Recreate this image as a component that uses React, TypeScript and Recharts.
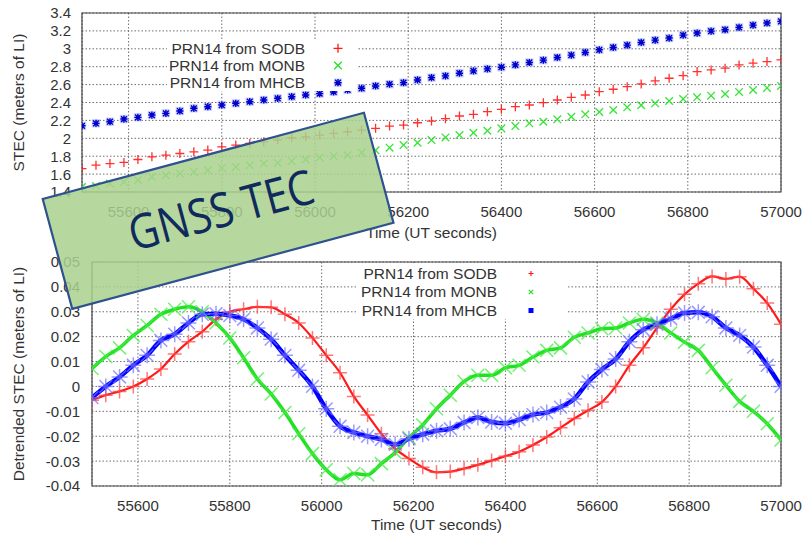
import React from 'react';
import { LineChart, Line, XAxis, YAxis, CartesianGrid, ReferenceArea } from 'recharts';

const FONT = '"Liberation Sans", Arial, Helvetica, sans-serif';

// time axis (UT seconds)
const times = [
  55500, 55530, 55560, 55590, 55620, 55650, 55680, 55710, 55740, 55770,
  55800, 55830, 55860, 55890, 55920, 55950, 55980, 56010, 56040, 56070,
  56100, 56130, 56160, 56190, 56220, 56250, 56280, 56310, 56340, 56370,
  56400, 56430, 56460, 56490, 56520, 56550, 56580, 56610, 56640, 56670,
  56700, 56730, 56760, 56790, 56820, 56850, 56880, 56910, 56940, 56970,
  57000,
];

// top panel: STEC (meters of LI)
const sodbTop = [
  1.662, 1.7, 1.718, 1.73, 1.763, 1.793, 1.811, 1.83, 1.849, 1.868,
  1.905, 1.924, 1.943, 1.961, 1.98, 2.006, 2.017, 2.036, 2.055, 2.073,
  2.092, 2.111, 2.137, 2.148, 2.174, 2.193, 2.219, 2.249, 2.268, 2.297,
  2.324, 2.353, 2.372, 2.398, 2.428, 2.458, 2.484, 2.521, 2.548, 2.577,
  2.607, 2.641, 2.671, 2.7, 2.745, 2.764, 2.783, 2.82, 2.839, 2.857,
  2.876,
];
const monbTop = [
  1.456, 1.467, 1.494, 1.512, 1.531, 1.568, 1.587, 1.606, 1.624, 1.643,
  1.669, 1.68, 1.7, 1.718, 1.725, 1.744, 1.763, 1.786, 1.8, 1.811,
  1.84, 1.865, 1.895, 1.924, 1.95, 1.98, 2.01, 2.036, 2.062, 2.084,
  2.111, 2.137, 2.167, 2.185, 2.212, 2.241, 2.268, 2.294, 2.316, 2.346,
  2.369, 2.391, 2.417, 2.439, 2.458, 2.476, 2.495, 2.518, 2.54, 2.563,
  2.585,
];
const mhcbTop = [
  2.14, 2.167, 2.185, 2.215, 2.234, 2.26, 2.279, 2.305, 2.335, 2.353,
  2.372, 2.391, 2.409, 2.428, 2.447, 2.465, 2.484, 2.499, 2.518, 2.54,
  2.559, 2.585, 2.604, 2.622, 2.652, 2.678, 2.697, 2.727, 2.753, 2.776,
  2.794, 2.82, 2.847, 2.873, 2.903, 2.929, 2.959, 2.989, 3.015, 3.041,
  3.071, 3.097, 3.12, 3.153, 3.176, 3.198, 3.213, 3.239, 3.265, 3.288,
  3.306,
];

// bottom panel: Detrended STEC (meters of LI)
const sodbDet = [
  -0.0055, -0.0035, -0.002, 0.0, 0.003, 0.007, 0.013, 0.018, 0.022, 0.027,
  0.03, 0.031, 0.032, 0.0318, 0.029, 0.0255, 0.0195, 0.0125, 0.0055, -0.004,
  -0.0115, -0.019, -0.025, -0.029, -0.0325, -0.0345, -0.0342, -0.033, -0.0315, -0.0298,
  -0.028, -0.0262, -0.0235, -0.0203, -0.0166, -0.0129, -0.0096, -0.0063, 0.0, 0.0085,
  0.0155, 0.0235, 0.031, 0.037, 0.0413, 0.0442, 0.0432, 0.0441, 0.0393, 0.0335,
  0.025,
];
const monbDet = [
  0.0072, 0.012, 0.0155, 0.0205, 0.0245, 0.029, 0.031, 0.032, 0.03, 0.0255,
  0.0195, 0.0115, 0.003, -0.003, -0.0105, -0.019, -0.027, -0.0335, -0.0375, -0.035,
  -0.0355, -0.031, -0.0265, -0.0205, -0.0155, -0.009, -0.0035, 0.002, 0.0045, 0.0045,
  0.0075, 0.0085, 0.0118, 0.0145, 0.0155, 0.0198, 0.0215, 0.0232, 0.0235, 0.0255,
  0.027, 0.0255, 0.0215, 0.0178, 0.0145, 0.0075, 0.0005, -0.006, -0.01, -0.015,
  -0.0215,
];
const mhcbDet = [
  -0.0045, 0.0, 0.0038, 0.0085, 0.0125, 0.0185, 0.021, 0.0255, 0.029, 0.0292,
  0.0285, 0.027, 0.0235, 0.019, 0.0125, 0.0065, 0.0, -0.009, -0.016, -0.0185,
  -0.02, -0.0213, -0.0233, -0.021, -0.0192, -0.0178, -0.017, -0.0145, -0.0125, -0.0143,
  -0.0148, -0.0133, -0.0113, -0.0105, -0.0083, -0.005, 0.0018, 0.0068, 0.011, 0.018,
  0.0228, 0.025, 0.0272, 0.0295, 0.0298, 0.028, 0.0235, 0.0205, 0.0158, 0.0085,
  0.0,
];

const seriesNames = ['PRN14 from SODB', 'PRN14 from MONB', 'PRN14 from MHCB'];
const xTicks = [55600, 55800, 56000, 56200, 56400, 56600, 56800, 57000];
const topYTicks = [1.4, 1.6, 1.8, 2, 2.2, 2.4, 2.6, 2.8, 3, 3.2, 3.4];
const detYTicks = [-0.04, -0.03, -0.02, -0.01, 0, 0.01, 0.02, 0.03, 0.04, 0.05];
const xTitle = 'Time (UT seconds)';
const topYTitle = 'STEC (meters of LI)';
const detYTitle = 'Detrended STEC (meters of LI)';
const stampText = 'GNSS TEC';

const topData = times.map((t, i) => ({ t, sodb: sodbTop[i], monb: monbTop[i], mhcb: mhcbTop[i] }));
const detData = times.map((t, i) => ({ t, sodb: sodbDet[i], monb: monbDet[i], mhcb: mhcbDet[i] }));

const RED = '#ff1a1a';
const GREEN = '#22e022';
const BLUE = '#0000ff';

function plusPath(cx: number, cy: number, a: number) {
  return `M${cx - a},${cy}H${cx + a}M${cx},${cy - a}V${cy + a}`;
}
function crossPath(cx: number, cy: number, a: number) {
  return `M${cx - a},${cy - a}L${cx + a},${cy + a}M${cx - a},${cy + a}L${cx + a},${cy - a}`;
}
function starPath(cx: number, cy: number, a: number) {
  return plusPath(cx, cy, a) + crossPath(cx, cy, a * 0.8);
}

const makeDot = (kind: string, a: number, color: string, w: number, op: number) => (p: any) => {
  const { cx, cy, index } = p;
  if (cx == null || cy == null) return <g key={`e${index}`} />;
  const d = kind === 'plus' ? plusPath(cx, cy, a) : kind === 'cross' ? crossPath(cx, cy, a) : starPath(cx, cy, a);
  return <path key={`d${index}`} d={d} stroke={color} strokeWidth={w} strokeOpacity={op} fill="none" />;
};

const topBlueDot = (p: any) => {
  const { cx, cy, index } = p;
  if (cx == null || cy == null) return <g key={`e${index}`} />;
  return (
    <g key={`b${index}`}>
      <rect x={cx - 4.2} y={cy - 4.2} width={8.4} height={8.4} fill="#8c9cff" fillOpacity={0.45} />
      <path d={starPath(cx, cy, 3.6)} stroke="#0000c8" strokeWidth={1.4} fill="none" />
    </g>
  );
};

const XTick = (p: any) => (
  <text x={p.x} y={p.y + 23} textAnchor="middle" fontFamily={FONT} fontSize={15} fill="#333">
    {p.payload.value}
  </text>
);
const makeYTick = (dx: number, digits: number) => (p: any) => (
  <text x={p.x - dx} y={p.y} dy="0.36em" textAnchor="end" fontFamily={FONT} fontSize={15} fill="#333">
    {String(Number(Number(p.payload.value).toFixed(digits)))}
  </text>
);

const gridProps = { stroke: '#555', strokeDasharray: '1.5 2', strokeOpacity: 0.85 };

export default function App() {
  return (
    <div style={{ position: 'absolute', left: 0, top: 0, width: 805, height: 536, background: '#fff' }}>
      <div style={{ position: 'absolute', left: 0, top: 0 }}>
        <LineChart width={805} height={250} data={topData} margin={{ top: 13, right: 24, bottom: 0, left: 0 }}>
          <CartesianGrid {...gridProps} />
          <XAxis
            dataKey="t"
            type="number"
            domain={[55500, 57000]}
            ticks={xTicks}
            interval={0}
            height={58}
            tickSize={0}
            tickLine={false}
            axisLine={false}
            tick={<XTick />}
            allowDataOverflow
          />
          <YAxis
            type="number"
            domain={[1.4, 3.4]}
            ticks={topYTicks}
            interval={0}
            width={82}
            tickSize={0}
            tickLine={false}
            axisLine={false}
            tick={makeYTick(9, 1)}
            allowDataOverflow
          />
          <ReferenceArea x1={55500} x2={57000} y1={1.4} y2={3.4} fill="none" stroke="#444" strokeWidth={1.2} />
          <Line dataKey="sodb" stroke="none" isAnimationActive={false} dot={makeDot('plus', 4.5, RED, 1.3, 0.9)} activeDot={false} />
          <Line dataKey="monb" stroke="none" isAnimationActive={false} dot={makeDot('cross', 3.8, GREEN, 1.3, 0.9)} activeDot={false} />
          <Line dataKey="mhcb" stroke="none" isAnimationActive={false} dot={topBlueDot} activeDot={false} />
        </LineChart>
      </div>
      <div style={{ position: 'absolute', left: 0, top: 250 }}>
        <LineChart width={805} height={286} data={detData} margin={{ top: 12, right: 24, bottom: 0, left: 0 }}>
          <CartesianGrid {...gridProps} />
          <XAxis
            dataKey="t"
            type="number"
            domain={[55500, 57000]}
            ticks={xTicks}
            interval={0}
            height={50}
            tickSize={0}
            tickLine={false}
            axisLine={false}
            tick={<XTick />}
            allowDataOverflow
          />
          <YAxis
            type="number"
            domain={[-0.04, 0.05]}
            ticks={detYTicks}
            interval={0}
            width={92}
            tickSize={0}
            tickLine={false}
            axisLine={false}
            tick={makeYTick(10, 2)}
            allowDataOverflow
          />
          <ReferenceArea x1={55500} x2={57000} y1={-0.04} y2={0.05} fill="none" stroke="#444" strokeWidth={1.2} />
          <Line dataKey="sodb" type="monotone" stroke={RED} strokeWidth={2.2} isAnimationActive={false} dot={makeDot('plus', 7, '#ff4a4a', 1.5, 0.75)} activeDot={false} />
          <Line dataKey="monb" type="monotone" stroke={GREEN} strokeWidth={3.5} isAnimationActive={false} dot={makeDot('cross', 6.5, '#44ee44', 1.5, 0.75)} activeDot={false} />
          <Line dataKey="mhcb" type="monotone" stroke={BLUE} strokeWidth={4.5} isAnimationActive={false} dot={makeDot('star', 8, '#6f6fff', 1.5, 0.7)} activeDot={false} />
        </LineChart>
      </div>
      <svg
        width={805}
        height={536}
        style={{ position: 'absolute', left: 0, top: 0, pointerEvents: 'none' }}
        fontFamily={FONT}
      >
        {/* axis titles */}
        <text x={431.5} y={237.5} textAnchor="middle" fontSize={15.5} fill="#333">{xTitle}</text>
        <text x={436.5} y={530} textAnchor="middle" fontSize={15.5} fill="#333">{xTitle}</text>
        <text transform="translate(18.5,102.5) rotate(-90)" textAnchor="middle" dy="0.35em" fontSize={15.5} fill="#333">{topYTitle}</text>
        <text transform="translate(19,374) rotate(-90)" textAnchor="middle" dy="0.35em" fontSize={15.5} fill="#333">{detYTitle}</text>

        {/* top legend */}
        <rect x={167} y={39} width={190} height={52} fill="#fff" />
        {seriesNames.map((n, i) => (
          <text key={`tl${i}`} x={305} y={48.3 + i * 17.2} dy="0.35em" textAnchor="end" fontSize={15.5} fill="#333">{n}</text>
        ))}
        <path d={plusPath(338, 48.3, 4.5)} stroke={RED} strokeWidth={1.3} />
        <path d={crossPath(338, 65.5, 3.8)} stroke={GREEN} strokeWidth={1.3} />
        <rect x={333.8} y={78.5} width={8.4} height={8.4} fill="#8c9cff" fillOpacity={0.45} />
        <path d={starPath(338, 82.7, 3.6)} stroke="#0000c8" strokeWidth={1.4} />

        {/* bottom legend */}
        <rect x={356} y={263} width={210} height={56} fill="#fff" />
        {seriesNames.map((n, i) => (
          <text key={`bl${i}`} x={497} y={273.5 + i * 18.5} dy="0.35em" textAnchor="end" fontSize={15.5} fill="#333">{n}</text>
        ))}
        <path d={plusPath(531, 273.5, 2.5)} stroke={RED} strokeWidth={1.2} />
        <path d={crossPath(531, 292, 2.2)} stroke={GREEN} strokeWidth={1.2} />
        <rect x={528.5} y={308} width={5} height={5} fill={BLUE} />

        {/* GNSS TEC stamp */}
        <g transform="translate(218.1,210.85) rotate(-15.03)">
          <rect x={-166.3} y={-56.9} width={332.6} height={113.8} fill="#a9d18e" fillOpacity={0.85} stroke="#2f528f" strokeWidth={2.2} />
          <text x={3} y={17} textAnchor="middle" fontFamily='"Open Sans", "Noto Sans", sans-serif' fontSize={48} fill="#0f2a5c" textLength={190} lengthAdjust="spacingAndGlyphs">
            {stampText}
          </text>
        </g>
      </svg>
    </div>
  );
}
